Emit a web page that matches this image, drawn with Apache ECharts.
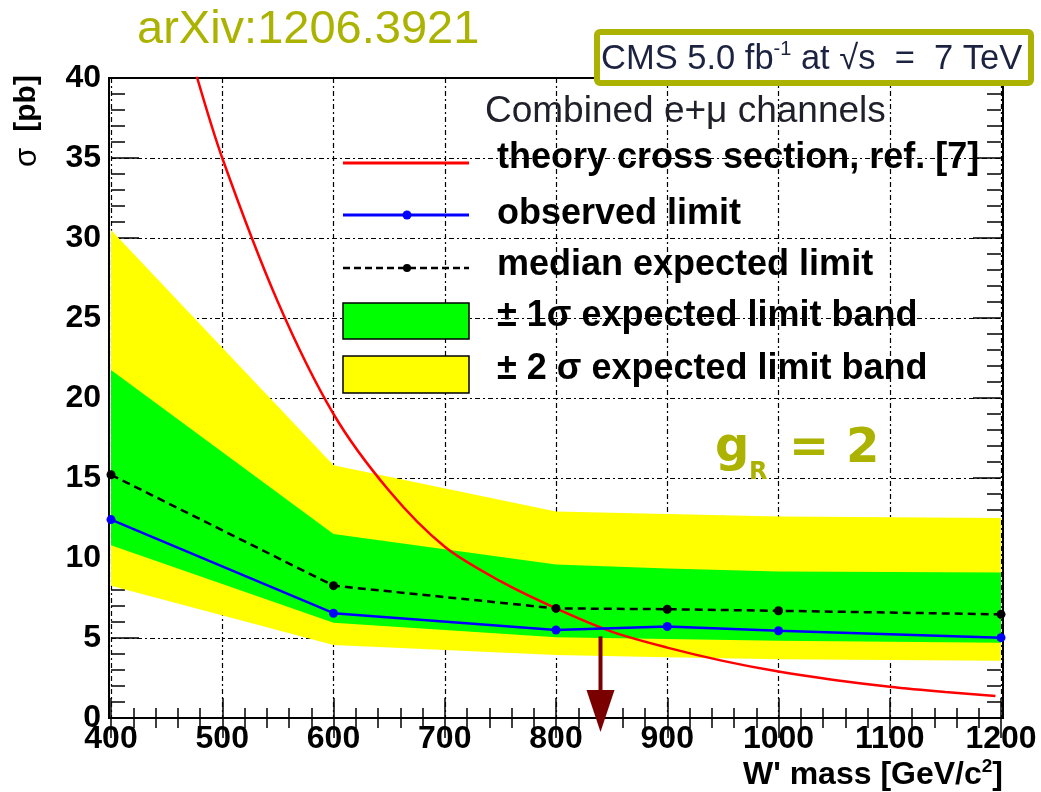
<!DOCTYPE html>
<html>
<head>
<meta charset="utf-8">
<script src="https://cdn.jsdelivr.net/npm/echarts@6/dist/echarts.min.js"></script>
<style>
  html, body { margin: 0; padding: 0; background: #ffffff; }
  #chart { width: 1041px; height: 792px; }
</style>
</head>
<body>
<div id="chart"></div>
<script>
// W' mass points (GeV/c^2) where the limits were computed
const massPoints = [400, 600, 800, 900, 1000, 1200];
// 95% CL limits on sigma x BR (pb)
const observedLimit  = [12.4, 6.55, 5.5, 5.72, 5.45, 5.02];
const medianExpected = [15.2, 8.27, 6.85, 6.8, 6.7, 6.48];
const band1Lower = [10.8, 5.96, 5.04, 4.93, 4.83, 4.71];
const band1Upper = [21.75, 11.5, 9.6, 9.35, 9.15, 9.1];
const band2Lower = [8.27, 4.56, 3.94, 3.8, 3.67, 3.58];
const band2Upper = [30.5, 15.8, 12.9, 12.75, 12.6, 12.5];
// theory cross section curve
const theoryMass = [475, 500, 550, 600, 650, 700, 750, 800, 850, 900, 950, 1000, 1050, 1100, 1150, 1195];
const theoryXsec = [40.6, 35.0, 26.0, 19.0, 14.2, 10.7, 8.55, 6.85, 5.4, 4.4, 3.57, 2.9, 2.38, 1.96, 1.63, 1.38];
// lower mass limit indicated by the arrow
const massLimit = 840;
const arrowTopValue = 5.1;

const OLIVE = '#abb300';
const SANS = '"Liberation Sans", Arial, sans-serif';
const gridDash = [5, 3, 2, 3];

const chart = echarts.init(document.getElementById('chart'), null, { renderer: 'canvas' });

function pairs(xs, ys) { return xs.map((x, i) => [x, ys[i]]); }

function bandSeries(name, lower, upper, color) {
  return {
    type: 'custom',
    name: name,
    data: massPoints.map((m, i) => [m, lower[i], upper[i]]),
    encode: { x: 0, y: [1, 2] },
    silent: true,
    renderItem: function (params, api) {
      if (params.dataIndex !== 0) return null;
      const top = massPoints.map((m, i) => api.coord([m, upper[i]]));
      const bottom = massPoints.map((m, i) => api.coord([m, lower[i]])).reverse();
      return {
        type: 'polygon',
        shape: { points: top.concat(bottom) },
        style: { fill: color, stroke: null }
      };
    }
  };
}

const tickStyle = { color: '#000', width: 1.5 };
const plainNumber = v => String(v);

chart.setOption({
  animation: false,
  backgroundColor: '#ffffff',
  grid: { left: 111, right: 40, top: 78, bottom: 74, containLabel: false },
  xAxis: [
    {
      type: 'value', position: 'bottom', min: 400, max: 1200, interval: 100,
      axisLine: { show: false },
      axisTick: { show: true, inside: true, length: 20, lineStyle: tickStyle },
      minorTick: { show: true, splitNumber: 5, length: 10, lineStyle: tickStyle },
      splitLine: { show: true, lineStyle: { color: '#000', width: 1.2, type: gridDash } },
      axisLabel: { formatter: plainNumber, fontFamily: SANS, fontWeight: 'bold', fontSize: 32, color: '#000', margin: 5 }
    },
    {
      type: 'value', position: 'top', min: 400, max: 1200, interval: 100,
      axisLine: { show: false },
      axisTick: { show: true, inside: true, length: 20, lineStyle: tickStyle },
      minorTick: { show: true, splitNumber: 5, length: 10, lineStyle: tickStyle },
      splitLine: { show: false },
      axisLabel: { show: false }
    }
  ],
  yAxis: [
    {
      type: 'value', position: 'left', min: 0, max: 40, interval: 5,
      axisLine: { show: false },
      axisTick: { show: true, inside: true, length: 28, lineStyle: tickStyle },
      minorTick: { show: true, splitNumber: 5, length: 14, lineStyle: tickStyle },
      splitLine: { show: true, lineStyle: { color: '#000', width: 1.2, type: gridDash } },
      axisLabel: { formatter: plainNumber, fontFamily: SANS, fontWeight: 'bold', fontSize: 32, color: '#000', margin: 10 }
    },
    {
      type: 'value', position: 'right', min: 0, max: 40, interval: 5,
      axisLine: { show: false },
      axisTick: { show: true, inside: true, length: 28, lineStyle: tickStyle },
      minorTick: { show: true, splitNumber: 5, length: 14, lineStyle: tickStyle },
      splitLine: { show: false },
      axisLabel: { show: false }
    }
  ],
  series: [
    bandSeries('± 2 σ expected limit band', band2Lower, band2Upper, '#ffff00'),
    bandSeries('± 1σ expected limit band', band1Lower, band1Upper, '#00ff00'),
    {
      type: 'line', name: 'theory cross section, ref. [7]',
      data: pairs(theoryMass, theoryXsec),
      smooth: 0.3, showSymbol: false, symbol: 'none', clip: true,
      lineStyle: { color: '#ff0000', width: 2.5 }, z: 3
    },
    {
      type: 'line', name: 'median expected limit',
      data: pairs(massPoints, medianExpected),
      symbol: 'circle', symbolSize: 9,
      itemStyle: { color: '#000' },
      lineStyle: { color: '#000', width: 2.5, type: [8, 5] }, z: 4
    },
    {
      type: 'line', name: 'observed limit',
      data: pairs(massPoints, observedLimit),
      symbol: 'circle', symbolSize: 9,
      itemStyle: { color: '#0000ff' },
      lineStyle: { color: '#0000ff', width: 2.5 }, z: 5
    }
  ]
});

// annotations: frame, legend, labels, limit arrow
const px = (x, y) => chart.convertToPixel({ xAxisIndex: 0, yAxisIndex: 0 }, [x, y]);
const p00 = px(400, 0), p11 = px(1200, 40);
const frameLeft = p00[0] - 2, frameRight = p11[0] + 2;
const arrowTop = px(massLimit, arrowTopValue);
const arrowTipY = p00[1] + 14;
const arrowX = arrowTop[0];

const legendX = 343, legendW = 126, legendTextX = 497;
const legendFont = { fontFamily: SANS, fontWeight: 'bold', fontSize: 36, fill: '#000', align: 'left', verticalAlign: 'middle' };

const graphics = [
  // plot frame
  { type: 'rect', z: 1, silent: true,
    shape: { x: frameLeft, y: p11[1], width: frameRight - frameLeft, height: p00[1] - p11[1] },
    style: { fill: null, stroke: '#000', lineWidth: 2 } },

  // title
  { type: 'text', z: 20, x: 137, y: 30,
    style: { text: 'arXiv:1206.3921', fontFamily: SANS, fontSize: 47, fill: OLIVE, align: 'left', verticalAlign: 'middle' } },

  // luminosity box
  { type: 'rect', z: 20,
    shape: { x: 597, y: 32, width: 434, height: 51, r: 3 },
    style: { fill: '#ffffff', stroke: OLIVE, lineWidth: 6 } },
  { type: 'text', z: 21, x: 601, y: 59,
    style: {
      text: '{n|CMS 5.0 fb}{s|-1}{n| at √s  =  7 TeV}',
      align: 'left', verticalAlign: 'middle',
      rich: {
        n: { fontFamily: SANS, fontSize: 34.5, fill: '#1c2340', lineHeight: 40 },
        s: { fontFamily: SANS, fontSize: 20, fill: '#1c2340', lineHeight: 22, verticalAlign: 'top' }
      }
    } },

  // legend
  { type: 'text', z: 10, x: 485, y: 112,
    style: { text: 'Combined e+μ channels', fontFamily: SANS, fontSize: 37, fill: '#20202a', align: 'left', verticalAlign: 'middle' } },

  { type: 'line', z: 10, shape: { x1: legendX, y1: 163, x2: legendX + legendW, y2: 163 },
    style: { stroke: '#ff0000', lineWidth: 3 } },
  { type: 'text', z: 10, x: legendTextX, y: 158, style: Object.assign({ text: 'theory cross section, ref. [7]' }, legendFont) },

  { type: 'line', z: 10, shape: { x1: legendX, y1: 215, x2: legendX + legendW, y2: 215 },
    style: { stroke: '#0000ff', lineWidth: 3 } },
  { type: 'circle', z: 11, shape: { cx: 407, cy: 215, r: 4.5 }, style: { fill: '#0000ff' } },
  { type: 'text', z: 10, x: legendTextX, y: 214, style: Object.assign({ text: 'observed limit' }, legendFont) },

  { type: 'line', z: 10, shape: { x1: legendX, y1: 268, x2: legendX + legendW, y2: 268 },
    style: { stroke: '#000', lineWidth: 2.5, lineDash: [7, 4] } },
  { type: 'circle', z: 11, shape: { cx: 407, cy: 268, r: 4 }, style: { fill: '#000' } },
  { type: 'text', z: 10, x: legendTextX, y: 265, style: Object.assign({ text: 'median expected limit' }, legendFont) },

  { type: 'rect', z: 10, shape: { x: legendX, y: 303, width: legendW, height: 36 },
    style: { fill: '#00ff00', stroke: '#000', lineWidth: 1.5 } },
  { type: 'text', z: 10, x: legendTextX, y: 316, style: Object.assign({ text: '± 1σ expected limit band' }, legendFont) },

  { type: 'rect', z: 10, shape: { x: legendX, y: 356, width: legendW, height: 37 },
    style: { fill: '#ffff00', stroke: '#000', lineWidth: 1.5 } },
  { type: 'text', z: 10, x: legendTextX, y: 369, style: Object.assign({ text: '± 2 σ expected limit band' }, legendFont) },

  // coupling label
  { type: 'text', z: 10, x: 715, y: 449,
    style: { text: 'g', fontFamily: '"DejaVu Sans", sans-serif', fontWeight: 'bold', fontSize: 48, fill: OLIVE, align: 'left', verticalAlign: 'middle' } },
  { type: 'text', z: 10, x: 749, y: 473,
    style: { text: 'R', fontFamily: '"DejaVu Sans", sans-serif', fontWeight: 'bold', fontSize: 24, fill: OLIVE, align: 'left', verticalAlign: 'middle' } },
  { type: 'text', z: 10, x: 789, y: 450,
    style: { text: '= 2', fontFamily: '"DejaVu Sans", sans-serif', fontWeight: 'bold', fontSize: 48, fill: OLIVE, align: 'left', verticalAlign: 'middle' } },

  // axis titles
  { type: 'text', z: 10, x: 1003, y: 775,
    style: {
      text: "{n|W' mass [GeV/c}{s|2}{n|]}",
      align: 'right', verticalAlign: 'middle',
      rich: {
        n: { fontFamily: SANS, fontWeight: 'bold', fontSize: 32, fill: '#000', lineHeight: 36 },
        s: { fontFamily: SANS, fontWeight: 'bold', fontSize: 19, fill: '#000', lineHeight: 20, verticalAlign: 'top' }
      }
    } },
  { type: 'text', z: 10, x: 27, y: 121, rotation: Math.PI / 2,
    style: {
      text: '{g|σ}{sp| }{n|[pb]}',
      align: 'center', verticalAlign: 'middle',
      rich: {
        g: { fontFamily: SANS, fontSize: 31, fill: '#000' },
        sp: { fontFamily: SANS, fontSize: 30, width: 16 },
        n: { fontFamily: SANS, fontWeight: 'bold', fontSize: 30, fill: '#000' }
      }
    } },

  // mass limit arrow
  { type: 'line', z: 12, shape: { x1: arrowX, y1: arrowTop[1], x2: arrowX, y2: arrowTipY - 40 },
    style: { stroke: '#7a0000', lineWidth: 4 } },
  { type: 'polygon', z: 12,
    shape: { points: [[arrowX - 14, arrowTipY - 42], [arrowX + 14, arrowTipY - 42], [arrowX, arrowTipY]] },
    style: { fill: '#7a0000' } }
];

chart.setOption({ graphic: graphics });
</script>
</body>
</html>
